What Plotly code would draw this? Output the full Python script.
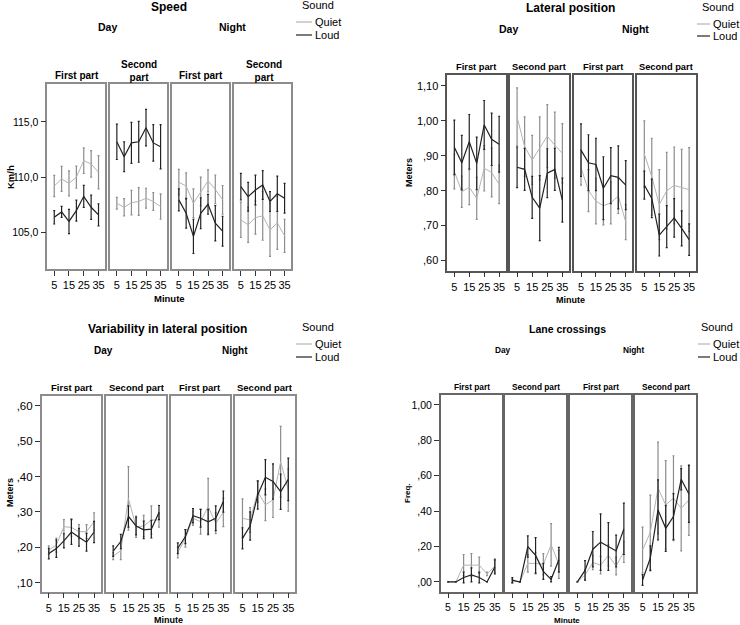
import plotly.graph_objects as go

# ---------------- data ----------------
MINUTES = [5, 10, 15, 20, 25, 30, 35]
X_TICKS = [5, 15, 25, 35]
PANEL_TITLES = ["First part", "Second part", "First part", "Second part"]
SERIES = ["Quiet", "Loud"]

# each list: [Day-First, Day-Second, Night-First, Night-Second]
speed_quiet = [
    [109.2, 109.85, 109.45, 110.0, 111.5, 111.2, 110.45],
    [107.64, 107.28, 107.7, 107.8, 108.1, 107.8, 107.35],
    [109.55, 109.2, 107.65, 108.7, 109.67, 108.9, 107.95],
    [106.15, 105.7, 106.35, 106.5, 105.24, 105.87, 104.7],
]
speed_quiet_err = [
    [0.96, 1.13, 1.13, 1.0, 1.15, 1.2, 1.5],
    [0.53, 0.78, 1.1, 1.25, 0.9, 0.8, 1.15],
    [1.15, 1.2, 1.3, 1.3, 1.0, 1.3, 1.3],
    [1.6, 1.6, 1.5, 2.2, 2.4, 2.4, 1.5],
]
speed_loud = [
    [106.37, 106.86, 106.0, 106.98, 108.27, 107.28, 106.6],
    [113.2, 111.85, 113.1, 113.2, 114.48, 113.1, 112.75],
    [107.95, 106.74, 104.65, 106.74, 107.55, 105.84, 105.12],
    [109.14, 108.24, 108.84, 109.3, 107.8, 108.5, 108.1],
]
speed_loud_err = [
    [0.6, 0.5, 1.1, 0.95, 1.0, 1.1, 1.0],
    [1.6, 1.35, 1.85, 1.85, 1.65, 1.65, 2.0],
    [1.0, 1.35, 1.55, 1.4, 0.9, 1.6, 1.35],
    [1.2, 1.3, 1.35, 1.3, 0.9, 1.6, 1.35],
]
speed_tickvals = [105, 110, 115]
speed_ticktext = ["105,0", "110,0", "115,0"]

lat_quiet = [
    [0.855, 0.797, 0.81, 0.778, 0.864, 0.852, 0.818],
    [1.011, 0.926, 0.888, 0.921, 0.956, 0.93, 0.907],
    [0.866, 0.80, 0.77, 0.757, 0.765, 0.785, 0.71],
    [0.905, 0.84, 0.76, 0.80, 0.815, 0.808, 0.803],
]
lat_quiet_err = [
    [0.05, 0.045, 0.05, 0.06, 0.065, 0.07, 0.055],
    [0.083, 0.085, 0.07, 0.09, 0.09, 0.095, 0.085],
    [0.05, 0.06, 0.065, 0.055, 0.06, 0.05, 0.05],
    [0.095, 0.11, 0.1, 0.11, 0.11, 0.11, 0.12],
]
lat_loud = [
    [0.924, 0.88, 0.94, 0.878, 0.988, 0.947, 0.933],
    [0.867, 0.861, 0.781, 0.75, 0.85, 0.861, 0.773],
    [0.916, 0.88, 0.875, 0.807, 0.843, 0.838, 0.816],
    [0.816, 0.778, 0.673, 0.697, 0.722, 0.692, 0.66],
]
lat_loud_err = [
    [0.078, 0.078, 0.078, 0.075, 0.07, 0.075, 0.08],
    [0.058, 0.06, 0.06, 0.093, 0.07, 0.06, 0.063],
    [0.075, 0.08, 0.075, 0.09, 0.08, 0.09, 0.07],
    [0.04, 0.055, 0.06, 0.06, 0.055, 0.05, 0.045],
]
lat_tickvals = [0.6, 0.7, 0.8, 0.9, 1.0, 1.1]
lat_ticktext = [",60", ",70", ",80", ",90", "1,00", "1,10"]

var_quiet = [
    [0.192, 0.206, 0.258, 0.256, 0.244, 0.244, 0.272],
    [0.175, 0.19, 0.338, 0.258, 0.26, 0.277, 0.277],
    [0.185, 0.225, 0.282, 0.272, 0.315, 0.268, 0.298],
    [0.282, 0.277, 0.357, 0.32, 0.334, 0.442, 0.362],
]
var_quiet_err = [
    [0.012, 0.02, 0.02, 0.025, 0.02, 0.02, 0.025],
    [0.01, 0.025, 0.09, 0.03, 0.03, 0.04, 0.02],
    [0.015, 0.025, 0.02, 0.035, 0.08, 0.03, 0.04],
    [0.055, 0.035, 0.03, 0.045, 0.05, 0.1, 0.06],
]
var_loud = [
    [0.182, 0.196, 0.218, 0.243, 0.228, 0.214, 0.243],
    [0.189, 0.216, 0.287, 0.26, 0.249, 0.251, 0.298],
    [0.197, 0.23, 0.289, 0.282, 0.272, 0.282, 0.329],
    [0.225, 0.26, 0.348, 0.398, 0.386, 0.357, 0.392],
]
var_loud_err = [
    [0.015, 0.025, 0.02, 0.035, 0.025, 0.025, 0.03],
    [0.015, 0.02, 0.03, 0.025, 0.025, 0.025, 0.02],
    [0.015, 0.02, 0.02, 0.025, 0.035, 0.035, 0.03],
    [0.03, 0.04, 0.04, 0.05, 0.05, 0.05, 0.06],
]
var_tickvals = [0.1, 0.2, 0.3, 0.4, 0.5, 0.6]
var_ticktext = [",10", ",20", ",30", ",40", ",50", ",60"]

lane_quiet = [
    [0.0, 0.0, 0.095, 0.095, 0.095, 0.045, 0.09],
    [0.005, 0.0, 0.105, 0.105, 0.1, 0.21, 0.1],
    [0.0, 0.04, 0.11, 0.095, 0.15, 0.09, 0.17],
    [0.18, 0.28, 0.53, 0.435, 0.473, 0.416, 0.463],
]
lane_quiet_err = [
    [0.0, 0.0, 0.06, 0.065, 0.045, 0.01, 0.04],
    [0.01, 0.0, 0.05, 0.06, 0.06, 0.12, 0.08],
    [0.0, 0.03, 0.04, 0.05, 0.06, 0.05, 0.06],
    [0.13, 0.21, 0.26, 0.25, 0.24, 0.24, 0.2],
]
lane_loud = [
    [0.0, 0.0, 0.025, 0.04, 0.025, 0.0, 0.085],
    [0.01, 0.0, 0.2, 0.15, 0.06, 0.015, 0.125],
    [0.0, 0.065, 0.185, 0.225, 0.2, 0.175, 0.3],
    [0.011, 0.134, 0.407, 0.303, 0.369, 0.58, 0.497],
]
lane_loud_err = [
    [0.0, 0.0, 0.03, 0.04, 0.03, 0.0, 0.04],
    [0.015, 0.0, 0.06, 0.1, 0.045, 0.015, 0.07],
    [0.0, 0.055, 0.1, 0.16, 0.135, 0.09, 0.145],
    [0.03, 0.07, 0.17, 0.13, 0.13, 0.06, 0.16],
]
lane_tickvals = [0.0, 0.2, 0.4, 0.6, 0.8, 1.0]
lane_ticktext = [",00", ",20", ",40", ",60", ",80", "1,00"]

# ---------------- layout / style ----------------
W, H = 740, 625
FONT = "Liberation Sans, Arial, Helvetica, sans-serif"
QUIET_COLOR = "#b4b4b4"
QUIET_ERR = "#8c8c8c"
LOUD_COLOR = "#222222"


def px(x):
    return x / W


def py(y):
    return 1 - y / H


charts = [
    dict(title="Speed", ytitle="Km/h",
         quiet=speed_quiet, qerr=speed_quiet_err, loud=speed_loud, lerr=speed_loud_err,
         tv=speed_tickvals, tt=speed_ticktext, yrange=[101.7, 118.4],
         panels=[(47.3, 105), (110, 167), (172, 229), (234, 291)], top=84.3, bottom=269,
         border="#8c8c8c", ytick=10.5, xtick=11, sub=10, daynight=10.5, ttl=12, axt=9.5,
         title_xy=(169, 7), day_xy=(107, 27), night_xy=(232, 27),
         sub_xy=[(77, 75), (139, 70.5), (201, 75), (264, 70.5)], two_line=True,
         ytitle_xy=(10, 177), minute_xy=(169, 298),
         sound_xy=(318, 5), leg_x=(296, 312), leg_y=(22, 35)),
    dict(title="Lateral position", ytitle="Meters",
         quiet=lat_quiet, qerr=lat_quiet_err, loud=lat_loud, lerr=lat_loud_err,
         tv=lat_tickvals, tt=lat_ticktext, yrange=[0.571, 1.131],
         panels=[(447.3, 505.7), (510, 569), (574, 632.3), (637.3, 695.7)], top=75, bottom=270.7,
         border="#555555", ytick=11, xtick=11, sub=9.3, daynight=10.5, ttl=12, axt=9,
         title_xy=(570, 8), day_xy=(508, 29), night_xy=(635, 29),
         sub_xy=[(476, 67), (539, 67), (603, 67), (666, 67)], two_line=False,
         ytitle_xy=(409, 173), minute_xy=(570, 300),
         sound_xy=(718, 7), leg_x=(697, 710), leg_y=(24, 36)),
    dict(title="Variability in lateral position", ytitle="Meters",
         quiet=var_quiet, qerr=var_quiet_err, loud=var_loud, lerr=var_loud_err,
         tv=var_tickvals, tt=var_ticktext, yrange=[0.074, 0.628],
         panels=[(41.7, 100.7), (106, 165.7), (170.7, 230), (235.3, 295)], top=396, bottom=591.7,
         border="#8c8c8c", ytick=11.5, xtick=11, sub=9.5, daynight=10, ttl=12, axt=9,
         title_xy=(167, 329), day_xy=(103, 350), night_xy=(235, 350),
         sub_xy=[(72, 387.7), (137, 387.7), (200, 387.7), (265, 387.7)], two_line=False,
         ytitle_xy=(10, 493), minute_xy=(168, 620),
         sound_xy=(318, 327), leg_x=(296, 312), leg_y=(344, 357)),
    dict(title="Lane crossings", ytitle="Freq.",
         quiet=lane_quiet, qerr=lane_quiet_err, loud=lane_loud, lerr=lane_loud_err,
         tv=lane_tickvals, tt=lane_ticktext, yrange=[-0.055, 1.056],
         panels=[(440.7, 501.7), (505, 565.7), (570, 630.7), (635.3, 695.7)], top=395, bottom=591.7,
         border="#666666", ytick=10.5, xtick=10.5, sub=8.3, daynight=8.3, ttl=10.5, axt=8,
         title_xy=(567, 329), day_xy=(503, 350), night_xy=(633, 350),
         sub_xy=[(472, 386.7), (536, 386.7), (601, 386.7), (666, 386.7)], two_line=False,
         ytitle_xy=(408, 493), minute_xy=(567, 620),
         sound_xy=(717, 327), leg_x=(698, 710), leg_y=(344, 357)),
]

fig = go.Figure()
layout = dict(
    width=W, height=H, margin=dict(l=0, r=0, t=0, b=0),
    paper_bgcolor="white", plot_bgcolor="white", showlegend=False,
    font=dict(family=FONT, color="#000000"),
)
annotations = []
shapes = []

idx = 0
for c in charts:
    for p, (x0, x1) in enumerate(c["panels"]):
        idx += 1
        sfx = "" if idx == 1 else str(idx)
        for name, vals, errs, col, ecol, lw in [
            ("Quiet", c["quiet"][p], c["qerr"][p], QUIET_COLOR, QUIET_ERR, 1.0),
            ("Loud", c["loud"][p], c["lerr"][p], LOUD_COLOR, LOUD_COLOR, 1.2),
        ]:
            fig.add_trace(go.Scatter(
                x=MINUTES, y=vals, mode="lines", name=name,
                line=dict(color=col, width=lw),
                error_y=dict(type="data", array=errs, color=ecol, thickness=1.2, width=1),
                xaxis="x" + sfx, yaxis="y" + sfx, hoverinfo="skip",
            ))
        layout["xaxis" + sfx] = dict(
            domain=[px(x0), px(x1)], anchor="y" + sfx, range=[0.3, 39.4],
            tickvals=X_TICKS, ticktext=[str(v) for v in X_TICKS], tickangle=0,
            ticks="outside", ticklen=5, tickwidth=1, tickcolor="#333",
            showline=True, mirror=True, linecolor=c["border"], linewidth=1.5,
            showgrid=False, zeroline=False, fixedrange=True,
            tickfont=dict(size=c["xtick"], family=FONT, color="#000"),
        )
        layout["yaxis" + sfx] = dict(
            domain=[py(c["bottom"]), py(c["top"])], anchor="x" + sfx, range=c["yrange"],
            tickvals=c["tv"], ticktext=c["tt"],
            ticks="outside" if p == 0 else "", ticklen=5, tickwidth=1, tickcolor="#333",
            showticklabels=(p == 0),
            showline=True, mirror=True, linecolor=c["border"], linewidth=1.5,
            showgrid=False, zeroline=False, fixedrange=True,
            tickfont=dict(size=c["ytick"], family=FONT, color="#000"),
        )

    def ann(text, xy, size, bold=True, angle=0, xanchor="center"):
        annotations.append(dict(
            text=("<b>%s</b>" % text) if bold else text,
            x=px(xy[0]), y=py(xy[1]), xref="paper", yref="paper",
            xanchor=xanchor, yanchor="middle", showarrow=False, textangle=angle,
            font=dict(size=size, family=FONT, color="#000"),
        ))

    ann(c["title"], c["title_xy"], c["ttl"])
    ann("Day", c["day_xy"], c["daynight"])
    ann("Night", c["night_xy"], c["daynight"])
    for t, xy in zip(PANEL_TITLES, c["sub_xy"]):
        if c["two_line"] and t == "Second part":
            t = "Second<br>part"
        ann(t, xy, c["sub"])
    ann(c["ytitle"], c["ytitle_xy"], c["axt"], angle=-90)
    ann("Minute", c["minute_xy"], c["axt"])
    ann("Sound", c["sound_xy"], 11, bold=False)
    for name, col, ly in [("Quiet", QUIET_COLOR, c["leg_y"][0]), ("Loud", LOUD_COLOR, c["leg_y"][1])]:
        shapes.append(dict(type="line", xref="paper", yref="paper",
                           x0=px(c["leg_x"][0]), x1=px(c["leg_x"][1]), y0=py(ly), y1=py(ly),
                           line=dict(color=col, width=1.2)))
        ann(name, (c["leg_x"][1] + 1, ly), 11, bold=False, xanchor="left")

layout["annotations"] = annotations
layout["shapes"] = shapes
fig.update_layout(**layout)
# remove the page's default body margin so the 740x625 figure fills the window
fig.write_html("out.html", config={"displayModeBar": False},
               post_script="document.body.style.margin='0px';")
